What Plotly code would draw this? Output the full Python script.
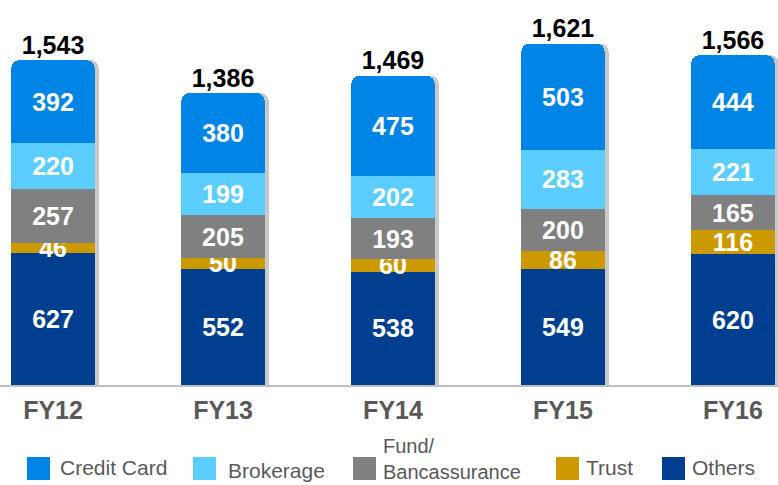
import plotly.graph_objects as go

years = ["FY12", "FY13", "FY14", "FY15", "FY16"]
others = [627, 552, 538, 549, 620]
trust = [46, 50, 60, 86, 116]
fund = [257, 205, 193, 200, 165]
brokerage = [220, 199, 202, 283, 221]
credit_card = [392, 380, 475, 503, 444]
totals = [1543, 1386, 1469, 1621, 1566]

series = [
    ("Others", others, "#003F8F"),
    ("Trust", trust, "#CC9900"),
    ("Fund/Bancassurance", fund, "#808080"),
    ("Brokerage", brokerage, "#5BCEFF"),
    ("Credit Card", credit_card, "#0084E6"),
]
colors = {name: c for name, _, c in series}

FONT = "Liberation Sans, Arial, sans-serif"
W, H = 778, 485
MB = 100
PH = H - MB
xs = list(range(len(years)))
BAR_W = 0.49

fig = go.Figure()

# soft shadow behind the stacks
fig.add_trace(go.Bar(
    x=xs, y=totals, width=BAR_W, offset=-BAR_W / 2 + 4 / 170,
    marker=dict(color="#C9C9C9", line=dict(width=0), cornerradius=8),
    showlegend=False, hoverinfo="skip", xaxis="x", yaxis="y",
))

for name, vals, color in series:
    fig.add_trace(go.Bar(
        x=xs, y=vals, name=name, marker=dict(color=color, line=dict(width=0)),
        width=BAR_W, text=[str(v) for v in vals], textposition="inside",
        insidetextanchor="middle", constraintext="none", textangle=0,
        cliponaxis=False,
        textfont=dict(color="white", size=25, family=FONT, weight="bold"),
        showlegend=False, hoverinfo="skip", xaxis="x", yaxis="y2",
    ))

fig.add_trace(go.Scatter(
    x=xs, y=totals, mode="text", text=[f"{t:,}" for t in totals],
    textposition="top center", showlegend=False, cliponaxis=False,
    textfont=dict(color="black", size=25, family=FONT, weight="bold"),
    hoverinfo="skip", xaxis="x", yaxis="y2",
))

# legend drawn at the bottom
def px_x(p):
    return p / W

def px_y(p):
    return (PH - p) / PH

legend_items = [
    ("Credit Card", 27, "Credit Card", 60, 467, 21),
    ("Brokerage", 193, "Brokerage", 228, 470, 21),
    ("Fund/Bancassurance", 353, "Fund/<br>Bancassurance", 383, 459, 20),
    ("Trust", 556, "Trust", 586, 467, 21),
    ("Others", 662, "Others", 692, 467, 21),
]
shapes = []
annotations = []
for name, sx, t, tx, ty, fs in legend_items:
    shapes.append(dict(type="rect", xref="paper", yref="paper",
                       x0=px_x(sx), x1=px_x(sx + 23), y0=px_y(480), y1=px_y(457),
                       fillcolor=colors[name], line=dict(width=0)))
    annotations.append(dict(text=t, xref="paper", yref="paper", align="left",
                            x=px_x(tx - 2), y=px_y(ty), xanchor="left", yanchor="middle",
                            showarrow=False,
                            font=dict(size=fs, color="#595959", family=FONT)))

fig.update_layout(
    width=W, height=H, barmode="stack", barcornerradius=8,
    margin=dict(l=0, r=0, t=0, b=MB, autoexpand=False),
    plot_bgcolor="white", paper_bgcolor="white",
    font=dict(family=FONT),
    xaxis=dict(range=[-0.312, 4.265], tickvals=xs, ticktext=years,
               showgrid=False, zeroline=False, showline=True,
               linecolor="#BFBFBF", linewidth=2,
               ticks="outside", ticklen=2, tickcolor="rgba(0,0,0,0)",
               tickfont=dict(size=25, color="#595959", family=FONT, weight="bold")),
    yaxis=dict(range=[0, 1828], visible=False),
    yaxis2=dict(range=[0, 1828], visible=False, overlaying="y"),
    shapes=shapes, annotations=annotations,
    showlegend=False,
)

fig.write_html("out.html", config={"displayModeBar": False},
               post_script="document.body.style.margin='0px';")
